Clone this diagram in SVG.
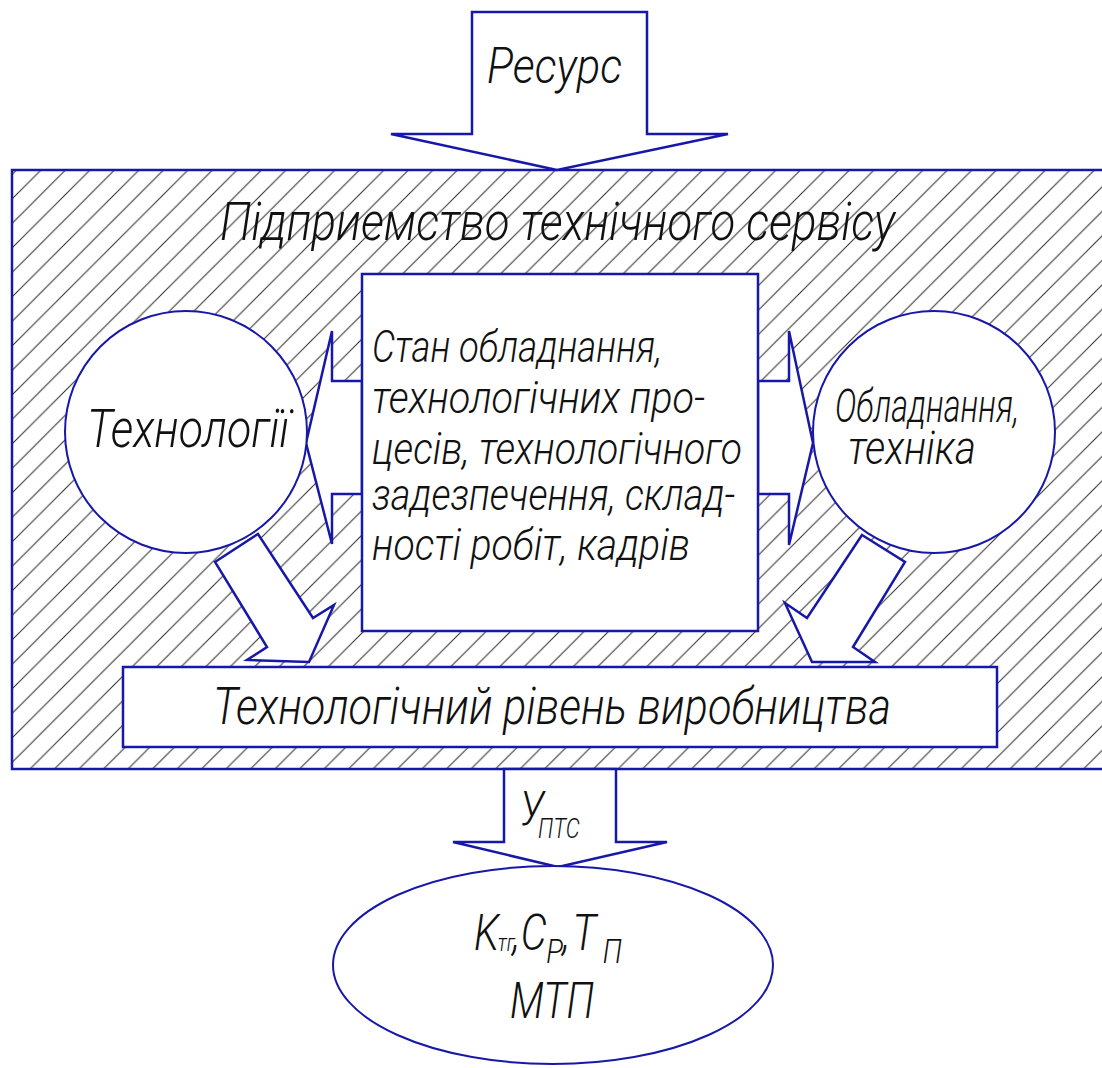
<svg xmlns="http://www.w3.org/2000/svg" width="1102" height="1068" viewBox="0 0 1102 1068">
  <defs>
    <!-- 45-degree section hatching for the enterprise block -->
    <pattern id="hatch" patternUnits="userSpaceOnUse" x="15" y="0" width="24.5" height="24.5">
      <path d="M0,24.5 L24.5,0 M-3,3 L3,-3 M21.5,27.5 L27.5,21.5" stroke="#2a2a2a" stroke-width="1"/>
    </pattern>
    <style>
      .ln { stroke: #1818a8; stroke-width: 2.5; fill: #ffffff; stroke-linejoin: miter; }
      .thin { stroke: #1818a8; stroke-width: 2; fill: #ffffff; }
      .t { font-family: Roboto, "Liberation Sans", sans-serif; font-weight: 300; font-style: italic; fill: #111111; }
    </style>
  </defs>

  <rect width="1102" height="1068" fill="#ffffff"/>

  <!-- enterprise block with hatching -->
  <g id="enterprise">
    <rect x="12" y="170" width="1094" height="599" fill="url(#hatch)" stroke="#1818a8" stroke-width="2.5"/>
    <text class="t" x="220" y="240" font-size="54" textLength="675" lengthAdjust="spacingAndGlyphs">Підприемство технічного сервісу</text>
  </g>

  <!-- block arrows -->
  <g id="connectors">
    <polygon id="arrow-resource" class="ln" points="472,12 647,12 647,134 728,134 557,170 391,134 472,134"/>
    <polygon id="arrow-left" class="ln" points="362,381 332,381 332,331 306,443 332,544 332,494 362,494"/>
    <polygon id="arrow-right" class="ln" points="758,381 789,381 789,331 813,443 789,545 789,494 758,494"/>
    <polygon id="arrow-diag-left" class="ln" points="215,562 258,534 313,618 334,605 309,662 247,660 267,647"/>
    <polygon id="arrow-diag-right" class="ln" points="862,535 905,562 853,647 875,662 812,662 785,603 807,618"/>
    <polygon id="arrow-out" class="ln" points="504,769 616,769 616,842 667,842 558,867 453,842 504,842"/>
  </g>

  <g id="resource-label">
    <text class="t" x="487" y="83" font-size="50" textLength="135" lengthAdjust="spacingAndGlyphs">Ресурс</text>
  </g>

  <g id="technologies">
    <circle class="thin" cx="186" cy="432" r="121" fill="none"/>
    <text class="t" x="87" y="447" font-size="54" textLength="202" lengthAdjust="spacingAndGlyphs">Технології</text>
  </g>

  <g id="equipment">
    <circle class="thin" cx="934" cy="432" r="121" fill="none"/>
    <text class="t" x="835" y="422" font-size="47" textLength="184" lengthAdjust="spacingAndGlyphs">Обладнання,</text>
    <text class="t" x="848" y="464" font-size="47" textLength="128" lengthAdjust="spacingAndGlyphs">техніка</text>
  </g>

  <g id="state">
    <rect class="ln" x="362" y="274" width="396" height="357"/>
    <text class="t" x="372" y="362" font-size="45" textLength="290" lengthAdjust="spacingAndGlyphs">Стан обладнання,</text>
    <text class="t" x="372" y="413" font-size="45" textLength="333" lengthAdjust="spacingAndGlyphs">технологічних про-</text>
    <text class="t" x="372" y="464" font-size="45" textLength="370" lengthAdjust="spacingAndGlyphs">цесів, технологічного</text>
    <text class="t" x="372" y="510" font-size="45" textLength="363" lengthAdjust="spacingAndGlyphs">задезпечення, склад-</text>
    <text class="t" x="372" y="560" font-size="45" textLength="318" lengthAdjust="spacingAndGlyphs">ності робіт, кадрів</text>
  </g>

  <g id="level">
    <rect class="ln" x="123" y="667" width="874" height="80"/>
    <text class="t" x="213" y="724" font-size="52" textLength="678" lengthAdjust="spacingAndGlyphs">Технологічний рівень виробництва</text>
  </g>

  <g id="output-label">
    <!-- У with subscript ПТС, drawn condensed -->
    <text class="t" transform="translate(520,0) scale(0.82,1)" font-size="48"><tspan x="0" y="825">У</tspan><tspan x="22" y="838" font-size="27">ПТС</tspan></text>
  </g>

  <g id="result">
    <ellipse class="thin" cx="553" cy="965" rx="220" ry="99"/>
    <!-- K with subscript тг, C with subscript P, T with subscript П; condensed horizontally -->
    <text class="t" transform="translate(474,0) scale(0.82,1)" font-size="50"><tspan x="0" y="950">K</tspan><tspan x="29" y="951" font-size="24">тг</tspan><tspan x="47" y="950">,</tspan><tspan x="57" y="950">C</tspan><tspan x="88" y="963" font-size="34">P</tspan><tspan x="108" y="950">,</tspan><tspan x="120" y="950">T</tspan><tspan x="157" y="963" font-size="34">П</tspan></text>
    <text class="t" x="510" y="1018" font-size="50" textLength="84" lengthAdjust="spacingAndGlyphs">МТП</text>
  </g>
</svg>
